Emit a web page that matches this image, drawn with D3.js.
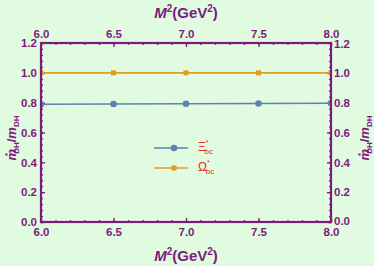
<!DOCTYPE html>
<html><head><meta charset="utf-8">
<script src="https://cdn.jsdelivr.net/npm/d3@7"></script>
<style>body{margin:0;background:#e0fbe0;}svg{display:block;}</style>
</head><body>
<svg id="c" width="374" height="266"></svg>
<script>
const xVals = [6.0, 6.5, 7.0, 7.5, 8.0];
const xiVals = [0.789, 0.791, 0.793, 0.794, 0.796];
const omegaVals = [1.0, 1.0, 1.0, 1.0, 1.0];
const xTicks = [6.0, 6.5, 7.0, 7.5, 8.0];
const yTicks = [0.0, 0.2, 0.4, 0.6, 0.8, 1.0, 1.2];

const svg = d3.select("#c");
const W = 374, H = 266;
const m = {l: 41, r: 43, t: 43, b: 44};
const purple = "#7e1a7e";
const blue = "#5e81b5", orange = "#e09c24";
const font = "Liberation Sans, Arial, sans-serif";
svg.append("rect").attr("width", W).attr("height", H).attr("fill", "#e0fbe0");

const x = d3.scaleLinear().domain([6, 8]).range([m.l, W - m.r]);
const y = d3.scaleLinear().domain([0, 1.2]).range([H - m.b, m.t]);

const minorX = d3.range(6, 8.0001, 0.1);
const minorY = d3.range(0, 1.2001, 0.04);

function styleAxis(g) {
  g.select(".domain").remove();
  g.selectAll("line").attr("stroke", purple).attr("stroke-width", 1.3);
  g.selectAll("text").attr("fill", purple).attr("font-family", font)
    .attr("font-weight", "bold").attr("font-size", 11.5);
}
const fmt = d3.format(".1f");
svg.append("g").attr("transform", `translate(0,${H - m.b})`)
  .call(d3.axisBottom(x).tickValues(xTicks).tickFormat(fmt).tickSize(-4).tickPadding(6)).call(styleAxis);
svg.append("g").attr("transform", `translate(0,${H - m.b})`)
  .call(d3.axisBottom(x).tickValues(minorX).tickFormat("").tickSize(-2)).call(styleAxis);
svg.append("g").attr("transform", `translate(0,${m.t})`)
  .call(d3.axisTop(x).tickValues(xTicks).tickFormat(fmt).tickSize(-4).tickPadding(5)).call(styleAxis);
svg.append("g").attr("transform", `translate(0,${m.t})`)
  .call(d3.axisTop(x).tickValues(minorX).tickFormat("").tickSize(-2)).call(styleAxis);
svg.append("g").attr("transform", `translate(${m.l},0)`)
  .call(d3.axisLeft(y).tickValues(yTicks).tickFormat(fmt).tickSize(-4).tickPadding(4)).call(styleAxis);
svg.append("g").attr("transform", `translate(${m.l},0)`)
  .call(d3.axisLeft(y).tickValues(minorY).tickFormat("").tickSize(-2)).call(styleAxis);
const rightAx = svg.append("g").attr("transform", `translate(${W - m.r},0)`)
  .call(d3.axisRight(y).tickValues(yTicks).tickFormat(fmt).tickSize(-4).tickPadding(3)).call(styleAxis);
rightAx.selectAll("text").filter(d => d === 0).attr("dy", "0.2em");
rightAx.selectAll("text").filter(d => d === 1.2).attr("dy", "0.42em");
svg.append("g").attr("transform", `translate(${W - m.r},0)`)
  .call(d3.axisRight(y).tickValues(minorY).tickFormat("").tickSize(-2)).call(styleAxis);

svg.append("clipPath").attr("id", "pc").append("rect")
  .attr("x", m.l).attr("y", m.t).attr("width", W - m.l - m.r).attr("height", H - m.t - m.b);
const plot = svg.append("g").attr("clip-path", "url(#pc)");

const line = d3.line().x((d, i) => x(xVals[i])).y(d => y(d));
plot.append("path").datum(omegaVals).attr("d", line).attr("fill", "none").attr("stroke", orange).attr("stroke-width", 1.6);
plot.append("path").datum(xiVals).attr("d", line).attr("fill", "none").attr("stroke", blue).attr("stroke-width", 1.6);
plot.selectAll(".om").data(omegaVals).enter().append("rect")
  .attr("x", (d, i) => x(xVals[i]) - 2.5).attr("y", d => y(d) - 2.5).attr("width", 5).attr("height", 5).attr("fill", orange);
plot.selectAll(".xi").data(xiVals).enter().append("circle")
  .attr("cx", (d, i) => x(xVals[i])).attr("cy", d => y(d)).attr("r", 3.3).attr("fill", blue);

svg.append("rect").attr("x", m.l).attr("y", m.t).attr("width", W - m.l - m.r).attr("height", H - m.t - m.b)
  .attr("fill", "none").attr("stroke", purple).attr("stroke-width", 2.2);

function mTitle(yPos) {
  const t = svg.append("text").attr("x", 186).attr("y", yPos).attr("text-anchor", "middle")
    .attr("fill", purple).attr("font-family", font).attr("font-weight", "bold").attr("font-size", 15);
  t.append("tspan").attr("font-style", "italic").text("M");
  t.append("tspan").attr("font-size", 10).attr("dy", -6).text("2");
  t.append("tspan").attr("dy", 6).text("(GeV");
  t.append("tspan").attr("font-size", 10).attr("dy", -6).text("2");
  t.append("tspan").attr("dy", 6).text(")");
}
mTitle(18);
mTitle(261);

function yTitle(xPos) {
  const t = svg.append("text").attr("transform", `translate(${xPos},138) rotate(-90)`)
    .attr("text-anchor", "middle").attr("fill", purple).attr("font-family", font)
    .attr("font-weight", "bold").attr("font-size", 13);
  t.append("tspan").attr("font-style", "italic").text("m");
  t.append("tspan").attr("font-size", 8).attr("dy", -6).attr("dx", -7).text("*");
  t.append("tspan").attr("font-size", 8).attr("dy", 9).attr("dx", -1).text("DH");
  t.append("tspan").attr("dy", -3).text("/");
  t.append("tspan").attr("font-style", "italic").text("m");
  t.append("tspan").attr("font-size", 8).attr("dy", 3).text("DH");
}
yTitle(16);
yTitle(369);

const legend = [{name: "Ξ", color: blue, shape: "circle"}, {name: "Ω", color: orange, shape: "rect"}];
legend.forEach((d, i) => {
  const ly = 148 + i * 20;
  svg.append("line").attr("x1", 154).attr("x2", 188).attr("y1", ly).attr("y2", ly).attr("stroke", d.color).attr("stroke-width", 1.6);
  if (d.shape === "circle") svg.append("circle").attr("cx", 174).attr("cy", ly).attr("r", 3.3).attr("fill", d.color);
  else svg.append("rect").attr("x", 171.5).attr("y", ly - 2.5).attr("width", 5).attr("height", 5).attr("fill", d.color);
  const t = svg.append("text").attr("x", 198).attr("y", ly + 3).attr("fill", "#ee2a2a")
    .attr("font-family", font).attr("font-size", 12);
  t.append("tspan").text(d.name);
  t.append("tspan").attr("font-size", 7).attr("dy", -6).text("*");
  t.append("tspan").attr("font-size", 8).attr("dy", 9).attr("dx", -4).text("bc");
});
</script>
</body></html>
